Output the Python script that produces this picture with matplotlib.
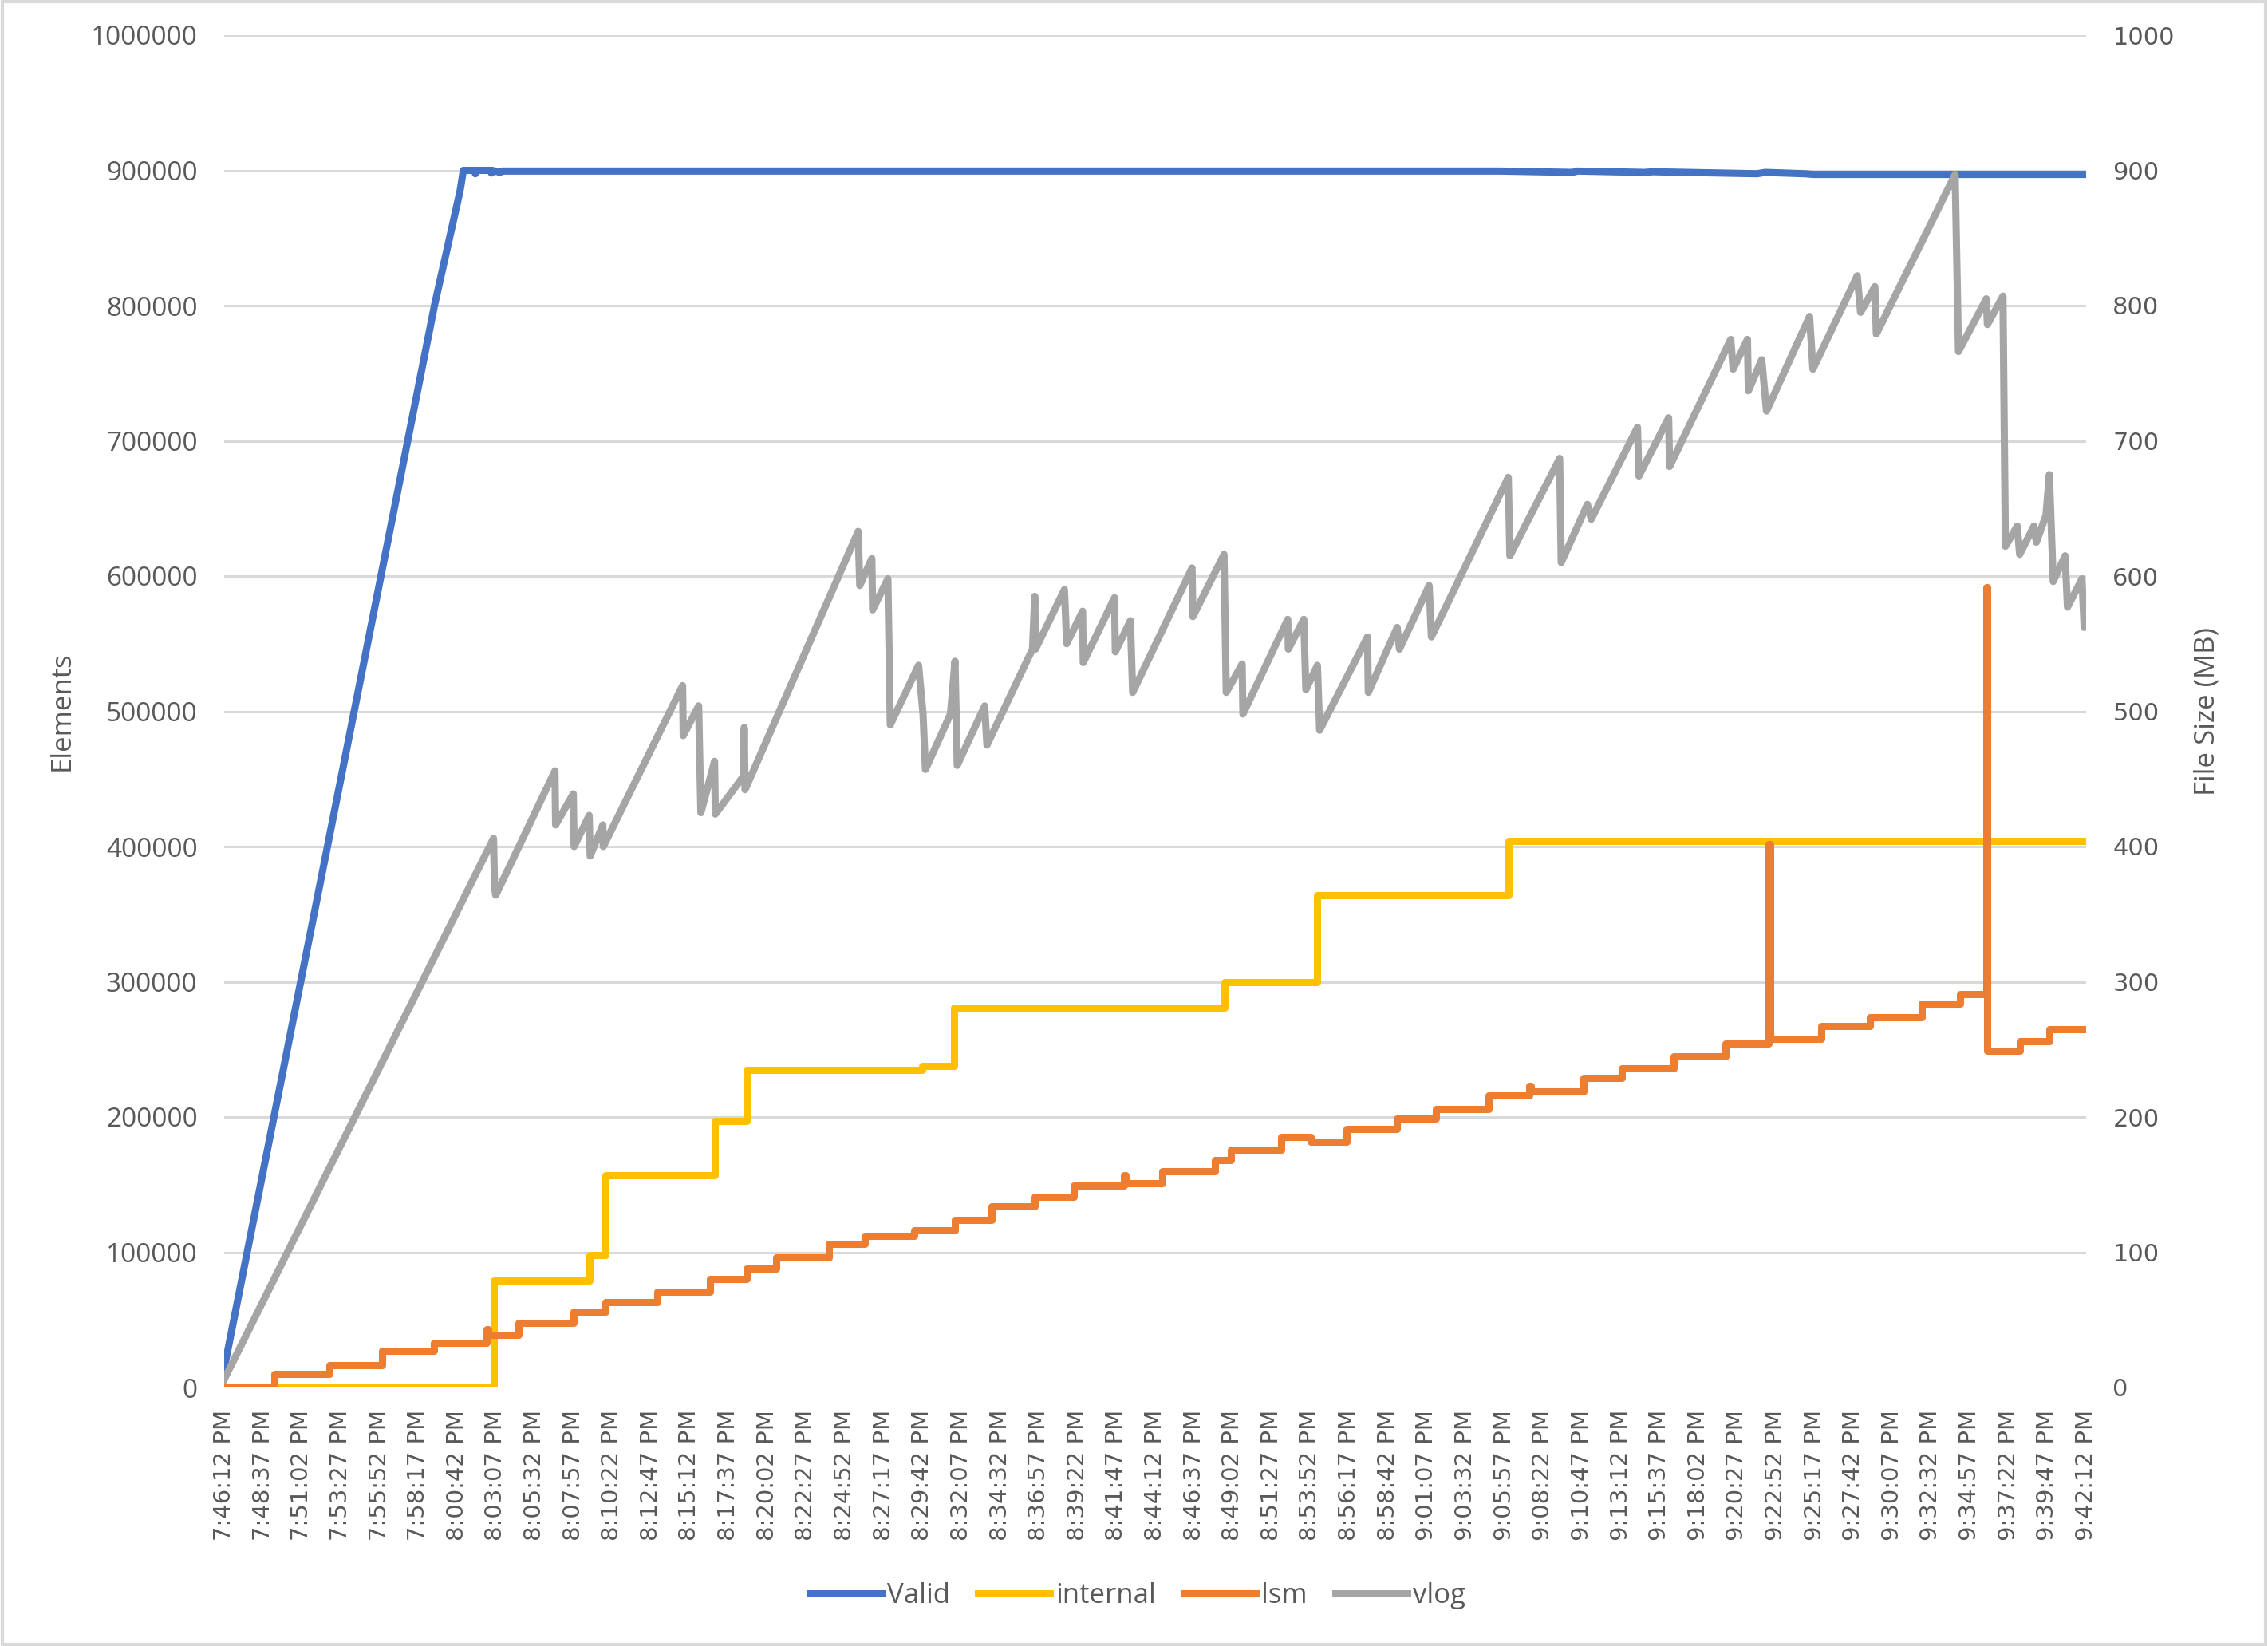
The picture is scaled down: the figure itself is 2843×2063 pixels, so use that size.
import matplotlib
matplotlib.use('Agg')
import matplotlib.pyplot as plt
from matplotlib.lines import Line2D
from matplotlib.patches import Rectangle
import numpy as np

# x values are minutes since 7:46:12 PM
tick_labels = ['7:46:12 PM', '7:48:37 PM', '7:51:02 PM', '7:53:27 PM', '7:55:52 PM', '7:58:17 PM',
               '8:00:42 PM', '8:03:07 PM', '8:05:32 PM', '8:07:57 PM', '8:10:22 PM', '8:12:47 PM',
               '8:15:12 PM', '8:17:37 PM', '8:20:02 PM', '8:22:27 PM', '8:24:52 PM', '8:27:17 PM',
               '8:29:42 PM', '8:32:07 PM', '8:34:32 PM', '8:36:57 PM', '8:39:22 PM', '8:41:47 PM',
               '8:44:12 PM', '8:46:37 PM', '8:49:02 PM', '8:51:27 PM', '8:53:52 PM', '8:56:17 PM',
               '8:58:42 PM', '9:01:07 PM', '9:03:32 PM', '9:05:57 PM', '9:08:22 PM', '9:10:47 PM',
               '9:13:12 PM', '9:15:37 PM', '9:18:02 PM', '9:20:27 PM', '9:22:52 PM', '9:25:17 PM',
               '9:27:42 PM', '9:30:07 PM', '9:32:32 PM', '9:34:57 PM', '9:37:22 PM', '9:39:47 PM',
               '9:42:12 PM']
tick_step_min = 145 / 60

# Valid (elements, left axis)
valid_t = [0, 13.1, 14.7, 14.9, 15.6, 15.65, 15.7, 16.6, 16.65, 16.7, 17.2, 17.3, 79.5, 84.0,
           84.3, 88.5, 89.0, 95.5, 96.0, 98.5, 99.0, 116]
valid_v = [14000, 800000, 885000, 900000, 900000, 897500, 900000, 900000, 898000, 900000, 898500,
           899500, 899500, 898500, 899500, 898500, 899000, 897500, 898500, 897500, 897000, 897000]

# internal (MB, step)
internal_t = [0, 16.78, 22.74, 23.74, 30.55, 32.54, 43.5, 45.5, 62.3, 68.1, 80.0, 116]
internal_v = [0, 79, 98, 157, 197, 235, 238, 281, 300, 364, 404, 404]

# lsm (MB, step)
lsm_t = [0, 3.15, 6.55, 9.82, 13.09, 16.35, 16.45, 18.34, 21.75, 23.74, 27.0, 30.27, 32.54, 34.39,
         37.65, 39.92, 42.98, 45.53, 47.81, 50.5, 52.92, 56.04, 56.14, 58.45, 61.72, 62.71, 65.84,
         67.68, 69.95, 73.08, 75.49, 78.76, 81.31, 81.41, 84.7, 87.07, 90.29, 93.56, 96.24, 96.3,
         99.51, 102.55, 105.76, 108.14, 109.78, 109.84, 111.86, 113.71, 116]
lsm_v = [0, 10, 16.5, 27, 33, 43, 39, 48, 56, 63, 71, 80, 88, 96, 106, 112, 116.5, 124, 134, 141,
         149, 157, 151, 160, 168, 176, 185, 182, 191, 199, 206, 216, 223, 219, 229, 236, 245, 254,
         402, 258, 267, 274, 284, 291, 592, 249, 256, 265, 265]

# vlog (MB)
vlog_t = [0, 16.78, 16.85, 16.92, 20.61, 20.65, 21.75, 21.8, 22.74, 22.8, 23.59, 23.62, 28.56, 28.6,
          29.56, 29.70, 30.55, 30.6, 32.35, 32.4, 32.45, 39.5, 39.6, 40.35, 40.4, 41.35, 41.5,
          43.26, 43.54, 43.69, 45.25, 45.53, 45.67, 47.38, 47.52, 50.36, 50.5, 50.55, 52.35, 52.49,
          53.48, 53.52, 55.47, 55.52, 56.46, 56.6, 60.3, 60.35, 62.29, 62.43, 63.42, 63.47, 66.26,
          66.3, 67.26, 67.39, 68.11, 68.25, 71.23, 71.28, 73.08, 73.22, 75.07, 75.21, 80.0, 80.1,
          83.2, 83.3, 84.93, 85.17, 88.05, 88.14, 89.99, 90.05, 93.86, 94.01, 94.9, 94.96, 95.79,
          96.09, 98.77, 98.98, 101.74, 101.95, 102.84, 102.93, 107.84, 108.05, 109.78, 109.85,
          110.82, 110.97, 111.71, 111.86, 112.75, 112.9, 113.5, 113.71, 113.95, 114.69, 114.84,
          115.74, 115.88, 116.0]
vlog_v = [6, 406, 369, 364, 456, 416, 439, 400, 423, 393, 416, 400, 519, 482,
          504, 425, 463, 424, 452, 488, 442, 633, 593, 613, 575, 598, 490,
          534, 498, 457, 498, 537, 460, 504, 475, 546, 585, 546, 590, 550,
          574, 536, 584, 544, 567, 514, 606, 570, 616, 514, 535, 498, 568,
          546, 568, 516, 534, 486, 555, 514, 562, 546, 593, 555, 673, 615,
          687, 610, 653, 642, 710, 674, 717, 681, 775, 753, 775, 737, 760,
          722, 792, 753, 822, 795, 814, 779, 897, 766, 805, 786,
          807, 622, 637, 616, 637, 625, 645, 675, 596, 615, 577,
          598, 562, 565]

c_valid = '#4472C4'
c_internal = '#FFC000'
c_lsm = '#ED7D31'
c_vlog = '#A5A5A5'
txt = '#595959'
lw = 3.25

W, H = 2843, 2063
fig = plt.figure(figsize=(W / 200, H / 200), dpi=200)
ax = fig.add_axes([281 / W, 1 - 1739 / H, 2334 / W, 1695 / H])
ax2 = ax.twinx()

ax.plot(valid_t, valid_v, color=c_valid, lw=lw, solid_joinstyle='round', solid_capstyle='round')
ax2.plot(internal_t, internal_v, color=c_internal, lw=lw, drawstyle='steps-post')
ax2.plot(lsm_t, lsm_v, color=c_lsm, lw=lw, drawstyle='steps-post')
ax2.plot(vlog_t, vlog_v, color=c_vlog, lw=lw, solid_joinstyle='round')

ax.set_xlim(0, 116)
ax.set_ylim(0, 1000000)
ax2.set_ylim(0, 1000)
ax.set_yticks(np.arange(0, 1000001, 100000))
ax2.set_yticks(np.arange(0, 1001, 100))
ax.set_xticks(np.arange(len(tick_labels)) * tick_step_min)
ax.set_xticklabels(tick_labels, rotation=90, fontsize=10.5, color=txt, family='DejaVu Sans')
ax.set_yticklabels([str(v) for v in range(0, 1000001, 100000)], fontsize=12, color=txt,
                   family='Open Sans')
ax2.set_yticklabels([str(v) for v in range(0, 1001, 100)], fontsize=11, color=txt,
                    family='DejaVu Sans')

ax.grid(axis='y', color='#D9D9D9', lw=1.1)
ax.set_axisbelow(True)
for a in (ax, ax2):
    for s in a.spines.values():
        s.set_visible(False)
    a.tick_params(length=0)
ax.tick_params(axis='x', pad=10)
ax.tick_params(axis='y', pad=12)
ax2.tick_params(axis='y', pad=12)

ax.set_ylabel('Elements', fontsize=12.5, color=txt, family='Open Sans')
ax.yaxis.set_label_coords(-0.0797, 0.5)
ax2.set_ylabel('File Size (MB)', fontsize=12.5, color=txt, family='Open Sans')
ax2.yaxis.set_label_coords(1.0578, 0.5)

handles = [Line2D([], [], color=c, lw=lw) for c in (c_valid, c_internal, c_lsm, c_vlog)]
leg = fig.legend(handles, ['Valid', 'internal', 'lsm', 'vlog'], loc='center',
                 bbox_to_anchor=(0.5016, 1 - 2000 / H), ncol=4, frameon=False,
                 prop={'family': 'Open Sans', 'size': 12.5}, handlelength=2.6,
                 handletextpad=0.2, columnspacing=1.0)
for t in leg.get_texts():
    t.set_color(txt)

fig.add_artist(Rectangle((0.001, 0.001), 0.998, 0.998, transform=fig.transFigure,
                         fill=False, edgecolor='#D9D9D9', lw=1.5))

fig.savefig('out.png', dpi=200, facecolor='white')
